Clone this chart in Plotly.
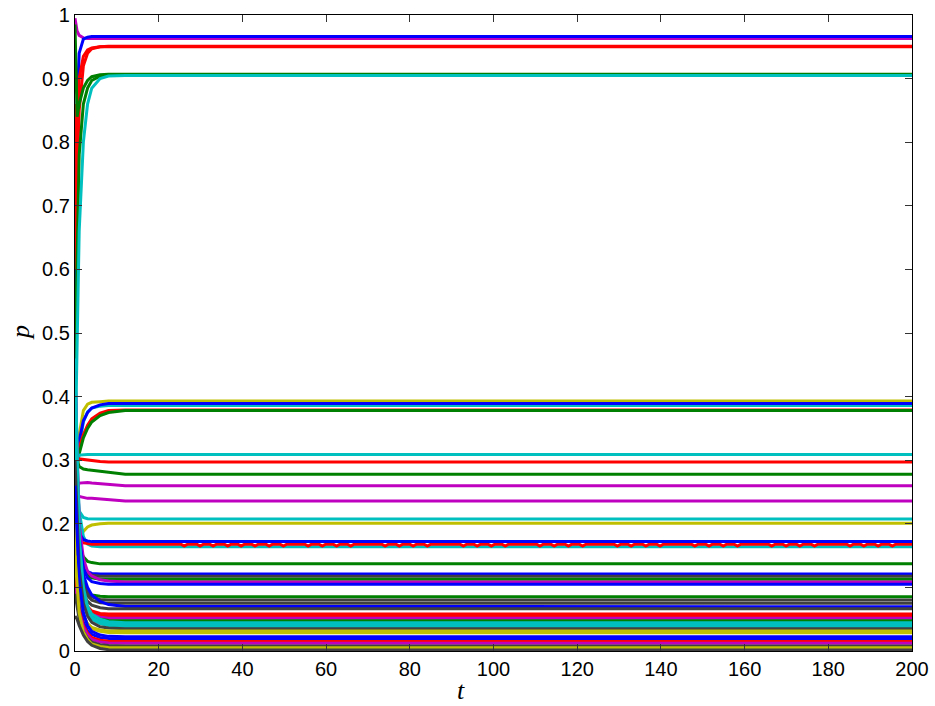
import plotly.graph_objects as go

T = [0, 0.5, 1, 2, 3, 4, 6, 8, 12, 200]

COL = {"b": "#0000FF", "g": "#008000", "r": "#FF0000", "c": "#00BFBF",
       "m": "#BF00BF", "y": "#BFBF00", "k": "#404040"}

series_colors = [
    "m", "b", "r", "r", "g", "g", "c",
    "y", "c", "b", "r", "g",
    "c", "r", "g", "m", "m", "c", "y", "c", "r", "b",
    "g", "b", "k", "g", "m", "b", "g", "k", "k", "b", "k",
    "r", "r", "m", "g", "c", "c", "c", "k", "y", "y",
    "b", "b", "r", "m", "k", "y", "k",
]

series_values = [
    [0.995, 0.975, 0.968, 0.964, 0.963, 0.963, 0.963, 0.963, 0.963, 0.963],
    [0.50, 0.86, 0.94, 0.962, 0.965, 0.966, 0.966, 0.966, 0.966, 0.966],
    [0.86, 0.75, 0.85, 0.92, 0.94, 0.947, 0.950, 0.951, 0.951, 0.951],
    [0.60, 0.80, 0.90, 0.935, 0.945, 0.948, 0.950, 0.950, 0.950, 0.950],
    [0.985, 0.84, 0.86, 0.885, 0.897, 0.903, 0.906, 0.907, 0.907, 0.907],
    [0.45, 0.65, 0.78, 0.86, 0.885, 0.897, 0.904, 0.906, 0.906, 0.906],
    [0.30, 0.50, 0.66, 0.80, 0.86, 0.885, 0.900, 0.904, 0.905, 0.905],
    [0.15, 0.28, 0.34, 0.378, 0.388, 0.391, 0.392, 0.393, 0.393, 0.393],
    [0.42, 0.30, 0.32, 0.36, 0.376, 0.382, 0.385, 0.386, 0.386, 0.386],
    [0.44, 0.31, 0.33, 0.362, 0.375, 0.382, 0.387, 0.389, 0.389, 0.389],
    [0.30, 0.31, 0.32, 0.34, 0.355, 0.365, 0.374, 0.378, 0.379, 0.379],
    [0.31, 0.29, 0.31, 0.335, 0.350, 0.360, 0.370, 0.375, 0.378, 0.378],
    [0.25, 0.30, 0.308, 0.309, 0.309, 0.309, 0.309, 0.309, 0.309, 0.309],
    [0.20, 0.298, 0.302, 0.301, 0.300, 0.299, 0.298, 0.297, 0.297, 0.297],
    [0.36, 0.30, 0.29, 0.286, 0.285, 0.284, 0.283, 0.281, 0.278, 0.278],
    [0.22, 0.255, 0.264, 0.265, 0.265, 0.264, 0.263, 0.262, 0.260, 0.260],
    [0.32, 0.25, 0.243, 0.241, 0.240, 0.240, 0.239, 0.238, 0.236, 0.236],
    [0.38, 0.26, 0.22, 0.21, 0.208, 0.2075, 0.2075, 0.2075, 0.2075, 0.2075],
    [0.12, 0.16, 0.175, 0.188, 0.195, 0.198, 0.200, 0.201, 0.201, 0.201],
    [0.45, 0.30, 0.22, 0.18, 0.168, 0.165, 0.164, 0.164, 0.164, 0.164],
    [0.25, 0.19, 0.175, 0.170, 0.169, 0.168, 0.168, 0.168, 0.168, 0.168],
    [0.32, 0.22, 0.185, 0.175, 0.173, 0.172, 0.172, 0.172, 0.172, 0.172],
    [0.22, 0.19, 0.165, 0.148, 0.141, 0.139, 0.137, 0.137, 0.137, 0.137],
    [0.28, 0.20, 0.16, 0.135, 0.125, 0.122, 0.121, 0.121, 0.121, 0.121],
    [0.26, 0.20, 0.16, 0.130, 0.122, 0.119, 0.1175, 0.1175, 0.1175, 0.1175],
    [0.20, 0.17, 0.145, 0.125, 0.118, 0.115, 0.113, 0.113, 0.113, 0.113],
    [0.44, 0.30, 0.20, 0.145, 0.125, 0.118, 0.112, 0.110, 0.1085, 0.1085],
    [0.35, 0.25, 0.18, 0.130, 0.115, 0.109, 0.106, 0.105, 0.105, 0.105],
    [0.18, 0.15, 0.125, 0.100, 0.092, 0.088, 0.086, 0.0854, 0.0854, 0.0854],
    [0.30, 0.20, 0.15, 0.110, 0.092, 0.085, 0.081, 0.080, 0.080, 0.080],
    [0.25, 0.18, 0.13, 0.100, 0.087, 0.080, 0.076, 0.075, 0.075, 0.075],
    [0.40, 0.25, 0.17, 0.120, 0.100, 0.088, 0.078, 0.073, 0.070, 0.0697],
    [0.22, 0.16, 0.12, 0.090, 0.078, 0.072, 0.068, 0.0665, 0.0665, 0.0665],
    [0.16, 0.14, 0.115, 0.085, 0.070, 0.063, 0.059, 0.058, 0.058, 0.058],
    [0.14, 0.125, 0.105, 0.078, 0.065, 0.059, 0.056, 0.055, 0.055, 0.055],
    [0.20, 0.15, 0.11, 0.080, 0.065, 0.057, 0.053, 0.0514, 0.0514, 0.0514],
    [0.24, 0.17, 0.12, 0.080, 0.063, 0.055, 0.050, 0.048, 0.0477, 0.0477],
    [0.46, 0.30, 0.18, 0.100, 0.070, 0.058, 0.050, 0.046, 0.0445, 0.0445],
    [0.35, 0.25, 0.16, 0.090, 0.065, 0.053, 0.046, 0.043, 0.0414, 0.0414],
    [0.40, 0.28, 0.17, 0.090, 0.062, 0.050, 0.043, 0.040, 0.038, 0.038],
    [0.30, 0.20, 0.13, 0.075, 0.055, 0.045, 0.038, 0.036, 0.035, 0.035],
    [0.18, 0.12, 0.085, 0.055, 0.043, 0.037, 0.033, 0.0315, 0.0314, 0.0314],
    [0.20, 0.14, 0.09, 0.055, 0.042, 0.035, 0.031, 0.029, 0.0288, 0.0288],
    [0.26, 0.17, 0.11, 0.060, 0.040, 0.031, 0.025, 0.023, 0.0225, 0.0225],
    [0.14, 0.10, 0.07, 0.045, 0.032, 0.026, 0.021, 0.0195, 0.0193, 0.0193],
    [0.12, 0.09, 0.065, 0.040, 0.028, 0.021, 0.017, 0.0155, 0.015, 0.015],
    [0.10, 0.08, 0.06, 0.037, 0.025, 0.018, 0.014, 0.0125, 0.012, 0.012],
    [0.09, 0.07, 0.05, 0.030, 0.020, 0.014, 0.010, 0.0085, 0.008, 0.008],
    [0.15, 0.10, 0.06, 0.030, 0.018, 0.011, 0.007, 0.0055, 0.005, 0.005],
    [0.055, 0.05, 0.04, 0.025, 0.015, 0.009, 0.004, 0.002, 0.0016, 0.0016],
]

# the red trajectory near p = 0.168 wiggles slightly at these times
DIP_SERIES = 20
dip_times = [26.1, 29.9, 33.0, 36.5, 39.7, 43.0, 46.4, 49.8, 55.7, 59.1, 62.5,
             65.9, 74.1, 77.5, 80.8, 84.2, 92.8, 96.1, 99.5, 102.8, 111.1,
             114.5, 117.9, 121.3, 129.6, 132.9, 136.4, 139.8, 148.1, 151.5,
             154.9, 158.3, 166.5, 169.9, 173.2, 176.7, 185.2, 188.5, 191.9,
             195.3]
dip_depth = 0.003

fig = go.Figure()
for i, (cname, vals) in enumerate(zip(series_colors, series_values)):
    xs, ys = list(T), list(vals)
    if i == DIP_SERIES:
        base = vals[-1]
        xs, ys = list(T[:-1]), list(vals[:-1])
        for d in dip_times:
            xs += [d - 0.8, d, d + 0.8]
            ys += [base, base - dip_depth, base]
        xs.append(T[-1])
        ys.append(vals[-1])
    fig.add_trace(go.Scatter(x=xs, y=ys, mode="lines",
                             line=dict(color=COL[cname], width=3),
                             showlegend=False, hoverinfo="skip"))

x_ticks = list(range(0, 201, 20))
y_ticks = [i / 10 for i in range(11)]
y_labels = ["0", "0.1", "0.2", "0.3", "0.4", "0.5", "0.6", "0.7", "0.8", "0.9", "1"]

axis_common = dict(showgrid=False, zeroline=False, showline=True,
                   linecolor="black", linewidth=1.2, mirror="ticks",
                   ticks="inside", ticklen=7, tickcolor="#333333",
                   tickwidth=1, automargin=False, ticklabeloverflow="allow",
                   tickfont=dict(family="Liberation Sans, Arial, sans-serif",
                                 size=20, color="black"))

fig.update_layout(
    width=935, height=706,
    margin=dict(l=75, r=23, t=15, b=55, autoexpand=False),
    plot_bgcolor="white", paper_bgcolor="white",
    xaxis=dict(range=[0, 200], tickvals=x_ticks,
               ticktext=[str(v) for v in x_ticks], **axis_common),
    yaxis=dict(range=[0, 1], tickvals=y_ticks, ticktext=y_labels,
               **axis_common),
    annotations=[
        dict(text="<i>t</i>", xref="paper", yref="paper", x=0.461, y=0,
             yshift=-39, xanchor="center", yanchor="middle", showarrow=False,
             font=dict(family="Liberation Serif, Times New Roman, serif",
                       size=26, color="black")),
        dict(text="<i>p</i>", xref="paper", yref="paper", x=0, y=0.5,
             xshift=-55, xanchor="center", yanchor="middle", showarrow=False,
             textangle=-90,
             font=dict(family="Liberation Serif, Times New Roman, serif",
                       size=26, color="black")),
    ],
)

fig.write_html("out.html",
               config={"displayModeBar": False},
               post_script="document.body.style.margin='0px';")
